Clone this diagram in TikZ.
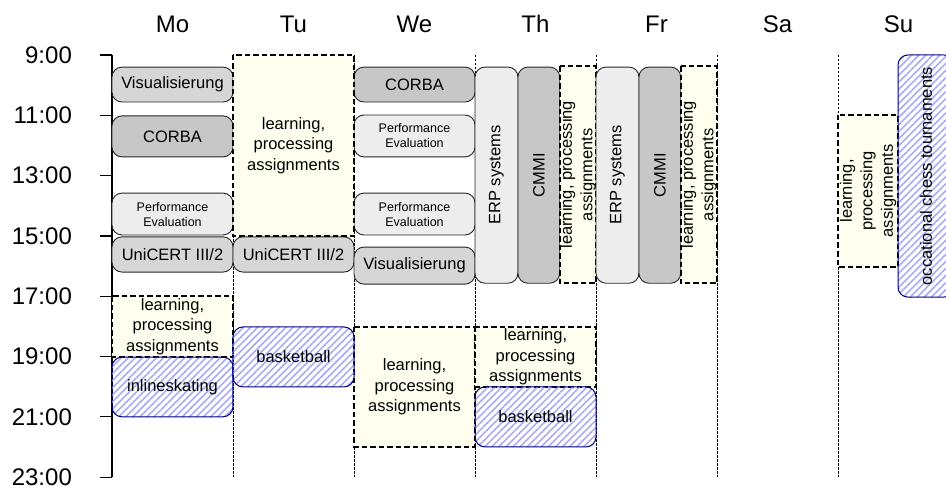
\documentclass[tikz,border=0pt]{standalone}
\usepackage{fontspec}
\setmainfont{Liberation Sans}
\usetikzlibrary{patterns.meta}

\definecolor{studyfill}{RGB}{255,255,240}
\definecolor{sportline}{RGB}{0,0,128}
\definecolor{hatch}{RGB}{170,170,250}

\begin{document}
\begin{tikzpicture}[x=121bp,y=-30.15bp,font=\fontsize{16.5bp}{20.5bp}\selectfont]
  \tikzstyle{slot}=[draw=black!85,line width=.9bp,rounded corners=10bp]
  \tikzstyle{lightbox}=[slot,fill=black!7]
  \tikzstyle{midbox}=[slot,fill=black!16]
  \tikzstyle{darkbox}=[slot,fill=black!22]
  \tikzstyle{studybox}=[draw=black,line width=1.8bp,dash pattern=on 5.5bp off 3bp,fill=studyfill]
  \tikzstyle{sportbox}=[draw=sportline,line width=1bp,rounded corners=10bp,
     pattern={Lines[angle=45,distance=5bp,line width=1.6bp]},pattern color=hatch]
  \tikzstyle{daysep}=[line width=.8bp,dash pattern=on 2.5bp off 1.5bp]
  \tikzstyle{txt}=[align=center,inner sep=0]
  \tikzstyle{big}=[font=\fontsize{24bp}{28bp}\selectfont]

  \useasboundingbox (-0.9256,7.176) rectangle (6.8926,23.295);

  % days and separators
  \foreach \d/\day in {0/Mo,1/Tu,2/We,3/Th,4/Fr,5/Sa,6/Su}
     \node[big,anchor=base,inner sep=0] (day\d) at (\d+.5,8.24) {\day};
  \foreach \d in {1,...,6}
     \draw[daysep] (\d,9) -- (\d,23);

  % time axis
  \draw[line width=1.2bp] (0,9) -- (0,23);
  \foreach \h in {9,11,...,23}{
     \draw[line width=1.2bp] (-.1,\h) -- (0,\h);
     \node[big,anchor=east,inner sep=0] (t\h) at (-.33,\h) {\h:00};
  }

  % lectures
  \foreach \n/\xa/\ya/\yb/\t in {movis/0/9.4/10.56/Visualisierung,
        mouni/0/15.03/16.2/UniCERT III{/}2,tuuni/1/15.03/16.2/UniCERT III{/}2,
        wevis/2/15.37/16.6/Visualisierung}
     \draw[midbox] (\xa,\ya) rectangle (\xa+1,\yb) node[txt,midway] (\n) {\t};
  \foreach \n/\xa/\ya/\yb in {mocorba/0/11.02/12.38,wecorba/2/9.4/10.56}
     \draw[darkbox] (\xa,\ya) rectangle (\xa+1,\yb) node[txt,midway] (\n) {CORBA};
  \foreach \n/\xa/\ya/\yb in {mope/0/13.58/14.97,wepea/2/10.99/12.38,wepeb/2/13.58/14.97}
     \draw[lightbox] (\xa,\ya) rectangle (\xa+1,\yb)
        node[txt,midway,font=\fontsize{12.5bp}{15bp}\selectfont] (\n) {Performance\\Evaluation};
  \foreach \d in {3,4}{
     \draw[lightbox] (\d,9.4) rectangle (\d+.355,16.57) node[txt,midway,rotate=90] (erp\d) {ERP systems};
     \draw[darkbox] (\d+.355,9.4) rectangle (\d+.7,16.57) node[txt,midway,rotate=90] (cmmi\d) {CMMI};
     \draw[studybox] (\d+.7,9.37) rectangle (\d+1,16.57)
        node[txt,midway,rotate=90] (learn\d) {learning, processing\\assignments};
  }

  % learning
  \foreach \n/\xa/\ya/\yb in {molearn/0/17.0/19.02,tulearn/1/9.0/15.0,
        welearn/2/18.02/22.0,thlearn/3/18.02/20.01}
     \draw[studybox] (\xa,\ya) rectangle (\xa+1,\yb)
        node[txt,midway] (\n) {learning,\\processing\\assignments};
  \draw[studybox] (6,10.99) rectangle (6.496,16.03)
     node[txt,midway,rotate=90] (sulearn) {learning,\\processing\\assignments};

  % sports
  \foreach \n/\xa/\ya/\yb/\t in {moskate/0/19.02/21.0/inlineskating,
        tubasket/1/18.02/20.01/basketball,thbasket/3/20.01/22.0/basketball}
     \draw[sportbox] (\xa,\ya) rectangle (\xa+1,\yb) node[txt,midway] (\n) {\t};
  \draw[sportbox] (6.496,9.0) rectangle (6.96,17.03)
     node[txt,midway,rotate=90] (suchess) {occational chess tournaments};
\end{tikzpicture}
\end{document}
